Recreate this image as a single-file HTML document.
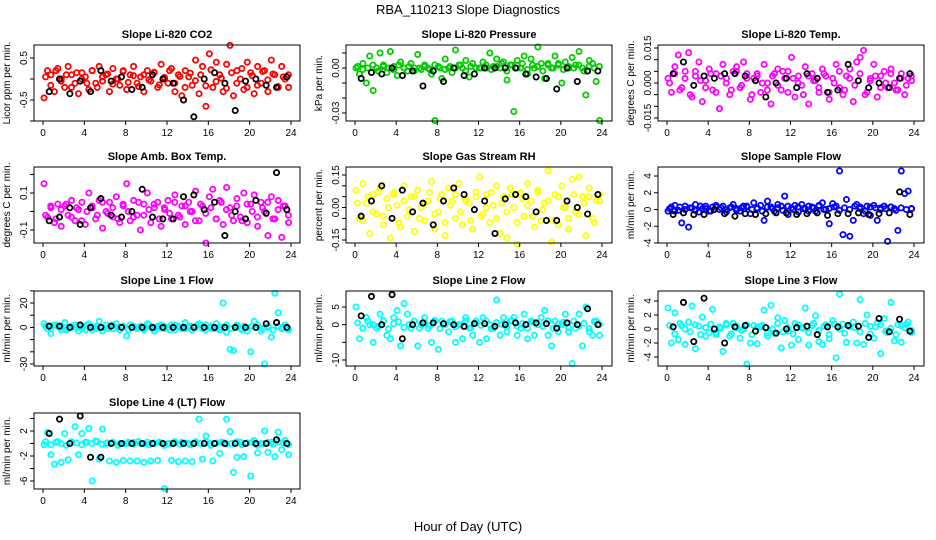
<!DOCTYPE html>
<html><head><meta charset="utf-8">
<style>
body{margin:0;background:#fff;}
svg{display:block;font-family:"Liberation Sans",sans-serif;}
</style></head>
<body>
<svg id="chart" width="936" height="540" viewBox="0 0 936 540">
<rect width="936" height="540" fill="#fff"/>
<text x="468" y="14" text-anchor="middle" font-size="13">RBA_110213  Slope Diagnostics</text>
<text x="468" y="531" text-anchor="middle" font-size="13">Hour of Day (UTC)</text>
</svg>
<script>
const xTicks = [0,4,8,12,16,20,24];
const co2Color = [-0.45,0.2,0.1,-0.3,0.25,0.0,-0.2,0.3,0.1,-0.1,-0.35,0.15,0.05,-0.25,0.2,-0.1,0.3,-0.05,0.1,-0.3,0.25,0.0,-0.15,0.2,-0.25,0.1,0.3,-0.1,0.05,-0.3,0.2,-0.05,0.15,-0.2,0.35,0.0,-0.1,0.25,-0.3,0.1,-0.4,0.2,0.05,-0.15,0.45,-0.35,0.3,-0.65,0.6,-0.2,0.4,0.1,-0.3,0.35,0.8,-0.4,0.2,0.0,-0.25,0.4,0.15,-0.35,0.3,-0.1,0.2,-0.3,0.45,0.1,-0.2,0.3,0.0,-0.2];
const co2Band = [0.05,-0.15,0.2,-0.05,0.1,-0.2,0.15,0.0,-0.1,0.2,-0.2,0.05,0.12,-0.12,0.0,0.18,-0.08,0.08,-0.18,0.1,-0.02,0.16,-0.14,0.04,0.2,-0.1,0.06,-0.2,0.14,-0.04,0.1,-0.16,0.22,-0.06,0.02,-0.22,0.15,-0.1,0.25,-0.2,0.08,-0.15,0.18,-0.02,0.12,-0.18,0.05,0.1];
const co2Black = [-0.3,0.0,-0.35,-0.05,-0.3,0.2,-0.05,0.05,-0.25,-0.2,0.1,0.0,-0.1,-0.5,-0.9,0.0,0.15,-0.1,-0.75,-0.05,0.0,-0.15,-0.2,0.05];
const presColor = [0,-0.004,0.003,-0.01,0.008,-0.015,0.0,0.01,0.002,-0.003,0.011,0.001,-0.005,0.004,0.0,-0.002,0.003,0.0,0.009,-0.001,0.002,0.0,-0.004,-0.035,0.001,-0.007,0.006,0.0,-0.003,0.012,0.002,0.0,0.005,-0.006,0.003,0.0,0.0,0.004,0.0,0.01,0.001,0.006,0.0,0.004,-0.008,0.002,-0.029,0.005,0.0,0.008,-0.004,0.006,0.0,0.014,0.003,-0.007,0.002,0.0,0.008,0.003,-0.01,0.004,0.0,0.007,0.002,0.011,0.0,-0.018,0.005,0.003,-0.009,-0.035];
const presBand = [0.001,-0.001,0.0,0.002,-0.002,0.001,0.0,-0.001,0.002,0.0,0.001,-0.002,0.0,0.001,-0.001,0.002,0.0,-0.001,0.001,0.0,0.002,-0.002,0.001,0.0,0.0,0.002,-0.001,0.001,0.003,-0.002,0.002,0.0,0.003,-0.001,0.002,0.001,-0.002,0.003,0.0,0.002,-0.001,0.001,0.0,0.002,-0.002,0.001,0.0,0.001];
const presBlack = [-0.007,-0.003,-0.004,0.0,-0.005,-0.002,-0.012,-0.002,-0.009,0.0,-0.005,-0.004,0.0,0.0,0.0,0.0,-0.004,-0.006,-0.007,-0.014,0.0,-0.009,-0.002,-0.002];
const tempColor = [0.002,-0.004,0.007,0.012,-0.002,0.005,0.013,-0.006,0.003,0.009,-0.008,0.001,0.006,-0.003,0.004,-0.011,0.008,0.002,-0.005,0.005,0.007,-0.002,0.009,0.004,-0.007,0.002,0.003,-0.004,0.008,0.0,-0.009,0.004,0.006,-0.003,0.002,0.005,0.011,-0.006,0.003,-0.001,0.007,-0.009,0.004,0.001,-0.004,0.006,0.003,-0.007,0.002,0.008,-0.002,-0.005,0.003,0.006,-0.008,0.009,0.011,0.014,-0.004,0.002,0.008,-0.006,0.003,0.005,-0.002,0.006,0.0,-0.003,0.004,-0.005,0.002,0.001];
const tempBand = [0.0,0.004,-0.003,0.002,-0.005,0.005,0.001,-0.002,0.004,-0.004,0.003,0.0,-0.003,0.005,-0.001,0.002,-0.005,0.004,0.0,-0.003,0.003,-0.001,0.005,-0.004,0.002,0.0,-0.005,0.003,0.001,-0.002,0.004,-0.004,0.0,0.005,-0.003,0.002,-0.001,0.004,-0.005,0.001,0.003,-0.002,0.0,0.004,-0.003,0.002,-0.001,0.003];
const tempBlack = [0.004,0.009,-0.001,0.003,0.002,0.004,0.004,0.003,0.001,-0.006,0.0,0.002,-0.002,0.004,0.002,-0.004,-0.003,0.008,0.001,-0.002,0.0,-0.002,0.002,0.004];
const ambColor = [0.15,-0.03,0.02,-0.06,0.04,-0.08,0.03,-0.02,0.06,-0.05,0.01,0.05,-0.07,0.1,0.02,-0.04,0.06,-0.09,0.0,0.05,-0.03,0.08,-0.06,0.03,0.15,-0.05,0.06,-0.02,-0.1,0.04,0.1,-0.06,0.02,0.05,-0.08,0.01,0.06,-0.04,0.09,-0.02,0.03,-0.07,0.05,0.0,0.11,-0.05,0.03,-0.17,0.08,0.12,-0.04,0.06,-0.07,0.13,0.02,-0.05,0.07,-0.03,0.1,-0.06,0.04,0.09,-0.08,0.05,0.0,-0.13,0.08,-0.04,0.06,-0.14,0.03,-0.06];
const ambBand = [-0.02,0.03,-0.04,0.01,0.04,-0.03,0.02,-0.05,0.0,0.03,-0.02,0.05,-0.01,0.02,-0.04,0.04,0.0,-0.03,0.05,-0.02,0.01,0.04,-0.04,0.02,-0.01,0.05,-0.03,0.03,0.0,-0.05,0.04,-0.01,0.02,-0.04,0.05,0.01,-0.02,0.03,-0.05,0.04,0.0,-0.03,0.02,0.05,-0.04,0.01,0.03,-0.02];
const ambBlack = [-0.05,-0.03,0.02,-0.07,0.02,0.07,-0.02,-0.03,0.0,0.12,-0.03,-0.04,-0.04,0.08,0.09,0.01,0.05,-0.13,0.0,-0.04,0.06,-0.01,0.21,0.01];
const rhColor = [0.08,-0.05,0.11,0.02,-0.12,0.06,-0.03,0.09,-0.08,0.04,-0.14,0.07,0.01,-0.09,0.1,-0.04,0.05,-0.11,0.08,0.0,-0.06,0.03,0.12,-0.1,-0.02,0.06,-0.13,0.09,0.03,-0.05,0.11,-0.08,0.04,0.02,-0.1,0.07,0.14,-0.03,0.06,-0.07,0.01,0.1,-0.12,0.05,-0.14,0.09,0.0,-0.17,0.07,-0.04,0.11,0.03,-0.09,0.08,-0.06,0.02,0.17,-0.16,0.06,-0.08,0.1,0.0,-0.1,0.13,-0.02,0.14,0.05,-0.13,0.09,-0.05,0.03,0.06];
const rhBand = [0.02,-0.06,0.05,-0.02,0.07,-0.04,0.0,0.06,-0.07,0.03,-0.01,0.05,-0.05,0.02,0.07,-0.03,0.04,-0.07,0.01,0.06,-0.02,0.03,-0.06,0.05,-0.04,0.0,0.07,-0.05,0.02,-0.02,0.06,-0.07,0.04,0.01,-0.04,0.07,-0.01,0.03,-0.06,0.05,0.0,-0.05,0.06,-0.03,0.02,0.05,-0.07,0.03];
const rhBlack = [-0.04,0.03,0.1,-0.05,0.08,-0.02,0.02,-0.08,0.03,0.09,0.06,-0.01,0.03,-0.12,0.04,0.06,0.05,-0.02,-0.06,-0.06,0.03,0.0,-0.03,0.06];
const sampColor = [-0.2,0.3,0.5,-0.1,-1.6,0.4,-2.1,0.2,0.6,-0.3,0.1,0.4,-0.2,0.3,0.5,0.0,0.4,-0.3,0.2,0.6,0.1,-0.2,0.4,0.3,-0.5,0.8,0.2,0.5,-1.3,1.0,0.3,-0.2,0.6,0.4,1.6,-0.6,0.2,0.5,-0.3,0.6,0.1,0.4,0.3,-0.2,0.5,0.8,0.0,-1.7,0.7,0.4,4.6,-3.0,1.2,-3.2,-1.3,0.6,0.3,-0.5,0.4,-0.7,0.5,-1.3,0.2,0.4,-3.8,0.3,0.1,-2.5,4.6,1.9,2.2,0.1];
const sampBand = [0.1,-0.2,0.3,0.0,0.2,-0.1,0.4,0.1,-0.2,0.3,0.2,0.0,0.3,-0.1,0.2,0.4,0.0,0.1,-0.2,0.3,0.1,0.2,-0.1,0.4,0.0,0.3,0.1,-0.2,0.2,0.4,0.0,0.1,0.3,-0.1,0.2,0.0,0.4,0.1,-0.2,0.3,0.2,0.0,0.1,0.3,-0.1,0.2,0.0,0.1];
const sampBlack = [-0.6,-0.4,-0.6,-0.6,0.0,-0.5,-0.8,-0.5,-0.6,-0.5,-0.4,-0.4,-0.6,-0.5,-0.4,-0.7,-0.5,-0.5,-0.4,-0.6,-0.5,-0.4,2.1,-0.6];
const l1Color = [3,-1,-5,2,1,-2,4,-1,0,2,-3,1,-2,3,1,-1,5,-3,2,0,-1,3,-2,1,-7,2,0,-1,1,-2,3,0,-3,1,2,-1,0,2,-2,1,-1,4,0,-2,1,3,-1,2,0,-1,3,-2,20,-4,-18,-19,2,-1,1,-3,-20,5,2,-3,-30,1,-8,28,12,-1,2,-2];
const l1Band = [1,-1,2,0,-2,1,0,-1,2,-2,1,0,-1,2,0,1,-2,1,0,-1,2,-1,0,1,-2,2,0,-1,1,0,2,-2,1,-1,0,2,-1,1,-2,0,1,2,-1,0,-2,1,0,-1];
const l1Black = [1,1,0,2,0,0,1,0,0,0,0,0,0,0,0,0,0,0,0,0,0,3,4,0];
const l2Color = [5,-4,-1,2,0,-5,-1,3,1,-3,-4,2,4,-6,6,3,-1,1,-6,0,2,-1,-5,1,-7,1,0,-2,1,-5,0,-4,2,-1,-3,1,-5,2,-4,0,-1,7,-3,2,-2,1,2,-3,-1,3,-4,1,-3,0,2,4,-3,-6,1,-2,0,3,-2,-11,-1,3,-6,5,-2,-3,1,-3];
const l2Band = [0.5,-1,1,0,-0.5,1.2,-1.2,0.3,0.8,-0.8,0,1,-1,0.5,-0.3,1.2,-1.1,0.2,0.9,-0.6,0,1.1,-0.9,0.4,-0.2,1,-1.2,0.6,0.1,-0.7,1.2,-0.4,0.3,-1,0.8,0,-0.5,1.1,-1,0.2,0.7,-0.8,1,-0.3,0.4,-1.1,0.9,0];
const l2Black = [2.5,8,0,8.5,-4,0,0.5,0.5,0.3,0,-0.5,0.3,0.3,-0.5,0,0.5,0,0.5,0.3,-1,0.5,0,4.5,0];
const l3Color = [3,-2,2.3,-1.5,0.5,-2.2,1,3.3,-2.8,0.4,1.7,-1,-0.5,2.8,-0.8,0.3,-3.2,0.6,-1,0.8,0.2,-1.3,0,-5,-2,0.5,-2.1,0.3,2.7,-1,3.4,-0.6,1.6,-2.7,1.2,-0.3,-2.3,0.8,-1.5,0.2,3,-2.3,0.5,1.9,-1.8,-2.2,0.6,-1.4,1.2,-4.1,5,0.7,-1.9,0.3,1,-2,4.2,-2.2,2,0.4,-1.3,0.9,-3.5,1.5,-0.5,3.8,-1.7,0.6,-1.9,0.2,1,-0.5];
const l3Band = [0.5,-0.7,0.8,0,-0.4,0.6,-0.8,0.2,0.7,-0.5,0.1,0.8,-0.7,0.4,-0.2,0.6,-0.8,0.3,0.5,-0.6,0,0.8,-0.4,0.2,-0.7,0.6,0.1,-0.5,0.8,-0.2,0.4,-0.8,0.7,0,-0.6,0.5,0.2,-0.4,0.8,-0.7,0.3,0.6,-0.3,0.1,-0.8,0.5,0.7,-0.2];
const l3Black = [0.3,3.8,-1.8,4.4,0,-2,0.3,0.5,-0.3,0.2,-0.6,0,0.2,0.4,-0.8,0.3,0.3,0.5,0.4,-1.2,1.5,-0.4,1.4,-0.3];
const l4Color = [-0.2,1.8,-1.8,-3.3,0.3,-3,1.6,-2.6,0.2,2.7,-1.8,1.6,0.2,2.4,-6,0.4,-2.5,2.3,0,-2.8,0.2,-3,0,-2.7,0,-2.8,0.2,-2.8,0,-3,0.2,-2.8,0,-2.7,0.1,-7.2,0,-2.7,0.1,-2.9,0.2,-2.8,0,-2.9,0.3,3.9,-2.5,1.2,0,-2.8,0.1,-1.6,0.2,3.9,1.9,-4.6,-2.2,0.2,-2.1,0.1,-5.2,0.5,-1.5,0,2,-1.4,0.2,-2.1,1.8,-1,0.5,-1.8];
const l4Band = [0.3,-0.2,0.2,0.0,-0.3,0.3,0.1,-0.2,0.2,0.0,0.3,-0.1,0.1,0.2,-0.3,0.0,0.2,-0.1,0.3,0.0,-0.2,0.1,0.2,-0.3,0.0,0.3,-0.1,0.1,-0.2,0.2,0.0,0.3,-0.3,0.1,0.2,-0.1,0.0,0.3,-0.2,0.1,0.2,-0.3,0.0,0.2,-0.1,0.3,0.1,-0.2];
const l4Black = [1.6,3.9,0,4.4,-2.2,-2.2,0,0,0,0,0,0,0,0,0,0,0,0,0,0,0,0,0.6,0];

const cols=[{l:34,r:300,x0:43,x24:291},{l:346,r:612,x0:355,x24:602},{l:658,r:924,x0:667,x24:914}];
const rows=[{t:45,b:121},{t:167,b:243},{t:291,b:366},{t:413,b:489}];
const panels=[
 {id:'co2',title:'Slope Li-820 CO2',ylab:'Licor ppm per min.',c:0,r:0,col:'#ff0000',v1:0.5,p1:58,v2:-0.5,p2:100,ticks:[0.5,0,-0.5,-1],labels:['0.5',null,'-0.5',null],data:co2Color,band:co2Band,blk:co2Black},
 {id:'pressure',title:'Slope Li-820 Pressure',ylab:'kPa per min.',c:1,r:0,col:'#00cc00',v1:0,p1:68,v2:-0.03,p2:113,ticks:[0.01,0,-0.01,-0.02,-0.03],labels:[null,'0.00',null,null,'-0.03'],data:presColor,band:presBand,blk:presBlack},
 {id:'li820-temp',title:'Slope Li-820 Temp.',ylab:'degrees C per min.',c:2,r:0,col:'#ff00ff',v1:0.015,p1:48,v2:-0.015,p2:118,ticks:[0.015,0.01,0.005,0,-0.005,-0.01,-0.015],labels:['0.015',null,null,'0.000',null,null,'-0.015'],data:tempColor,band:tempBand,blk:tempBlack},
 {id:'amb-box-temp',title:'Slope Amb. Box Temp.',ylab:'degrees C per min.',c:0,r:1,col:'#ff00ff',v1:0.1,p1:193,v2:-0.1,p2:230,ticks:[0.2,0.1,0,-0.1],labels:[null,'0.1',null,'-0.1'],data:ambColor,band:ambBand,blk:ambBlack},
 {id:'gas-stream-rh',title:'Slope Gas Stream RH',ylab:'percent per min.',c:1,r:1,col:'#ffff00',v1:0.15,p1:175,v2:-0.15,p2:240,ticks:[0.15,0.1,0.05,0,-0.05,-0.1,-0.15],labels:['0.15',null,null,'0.00',null,null,'-0.15'],data:rhColor,band:rhBand,blk:rhBlack},
 {id:'sample-flow',title:'Slope Sample Flow',ylab:'ml/min per min.',c:2,r:1,col:'#0000ff',v1:4,p1:176,v2:-4,p2:243,ticks:[4,2,0,-2,-4],labels:['4','2','0','-2','-4'],data:sampColor,band:sampBand,blk:sampBlack},
 {id:'line1-flow',title:'Slope Line 1 Flow',ylab:'ml/min per min.',c:0,r:2,col:'#00ffff',v1:20,p1:303,v2:-30,p2:364,ticks:[30,20,10,0,-10,-20,-30],labels:[null,'20',null,'0',null,null,'-30'],data:l1Color,band:l1Band,blk:l1Black},
 {id:'line2-flow',title:'Slope Line 2 Flow',ylab:'ml/min per min.',c:1,r:2,col:'#00ffff',v1:5,p1:307,v2:-10,p2:360,ticks:[5,0,-5,-10],labels:['5','0',null,'-10'],data:l2Color,band:l2Band,blk:l2Black},
 {id:'line3-flow',title:'Slope Line 3 Flow',ylab:'ml/min per min.',c:2,r:2,col:'#00ffff',v1:4,p1:301,v2:-4,p2:357,ticks:[4,2,0,-2,-4],labels:['4','2','0','-2','-4'],data:l3Color,band:l3Band,blk:l3Black},
 {id:'line4-flow',title:'Slope Line 4 (LT) Flow',ylab:'ml/min per min.',c:0,r:3,col:'#00ffff',v1:2,p1:431,v2:-6,p2:481,ticks:[4,2,0,-2,-4,-6],labels:[null,'2',null,'-2',null,'-6'],data:l4Color,band:l4Band,blk:l4Black}
];
const NS='http://www.w3.org/2000/svg';
const svg=document.getElementById('chart');
function mk(tag,attrs,parent){const e=document.createElementNS(NS,tag);for(const k in attrs)e.setAttribute(k,attrs[k]);parent.appendChild(e);return e;}
panels.forEach(p=>{
  const C=cols[p.c],R=rows[p.r];
  const xs=v=>C.x0+(C.x24-C.x0)*v/24;
  const ys=v=>p.p1+(p.p2-p.p1)*(v-p.v1)/(p.v2-p.v1);
  const g=mk('g',{},svg);
  
  
  const ttl=mk('text',{x:(C.l+C.r)/2,y:R.t-7,'text-anchor':'middle','font-size':'11','font-weight':'bold'},g);
  ttl.textContent=p.title;
  
  
  const yl=mk('text',{x:0,y:0,'text-anchor':'middle','font-size':'10',transform:`translate(${C.l-24},${(R.t+R.b)/2}) rotate(-90)`},g);
  yl.textContent=p.ylab;
  
  
  const pts=mk('g',{fill:'none','stroke-width':'1.8'},g);
  
  
  p.band.forEach((v,i)=>{
    const c=mk('circle',{cx:xs(i/2+0.25),cy:ys(v),r:2.6,stroke:p.col},pts);
    
    
  });
  p.data.forEach((v,i)=>{
    const c=mk('circle',{cx:xs(i/3+0.1),cy:ys(v),r:2.6,stroke:p.col},pts);
    
    
  });
  const bp=mk('g',{fill:'none','stroke-width':'1.8'},g);
  
  
  p.blk.forEach((v,i)=>{
    const c=mk('circle',{cx:xs(i+0.6),cy:ys(v),r:2.6,stroke:'#000'},bp);
    
    
  });
  const box=mk('rect',{x:C.l,y:R.t,width:C.r-C.l,height:R.b-R.t,fill:'none',stroke:'#000','stroke-width':'1'},g);
  
  
  const ax=mk('g',{stroke:'#000','stroke-width':'1'},g);
  
  
  xTicks.forEach(t=>{
    mk('line',{x1:xs(t),x2:xs(t),y1:R.b,y2:R.b+4},ax);
    const tx=mk('text',{x:xs(t),y:R.b+15,'text-anchor':'middle','font-size':'10',stroke:'none',fill:'#000'},ax);
    tx.textContent=t;
    
    
  });
  const ay=mk('g',{stroke:'#000','stroke-width':'1'},g);
  
  
  p.ticks.forEach((t,i)=>{
    mk('line',{x1:C.l-4,x2:C.l,y1:ys(t),y2:ys(t)},ay);
    if(p.labels[i]){
      const tx=mk('text',{x:0,y:0,'text-anchor':'middle','font-size':'10',stroke:'none',fill:'#000',transform:`translate(${C.l-7},${ys(t)}) rotate(-90)`},ay);
      tx.textContent=p.labels[i];
      
      
    }
  });
});
</script>
</body></html>
